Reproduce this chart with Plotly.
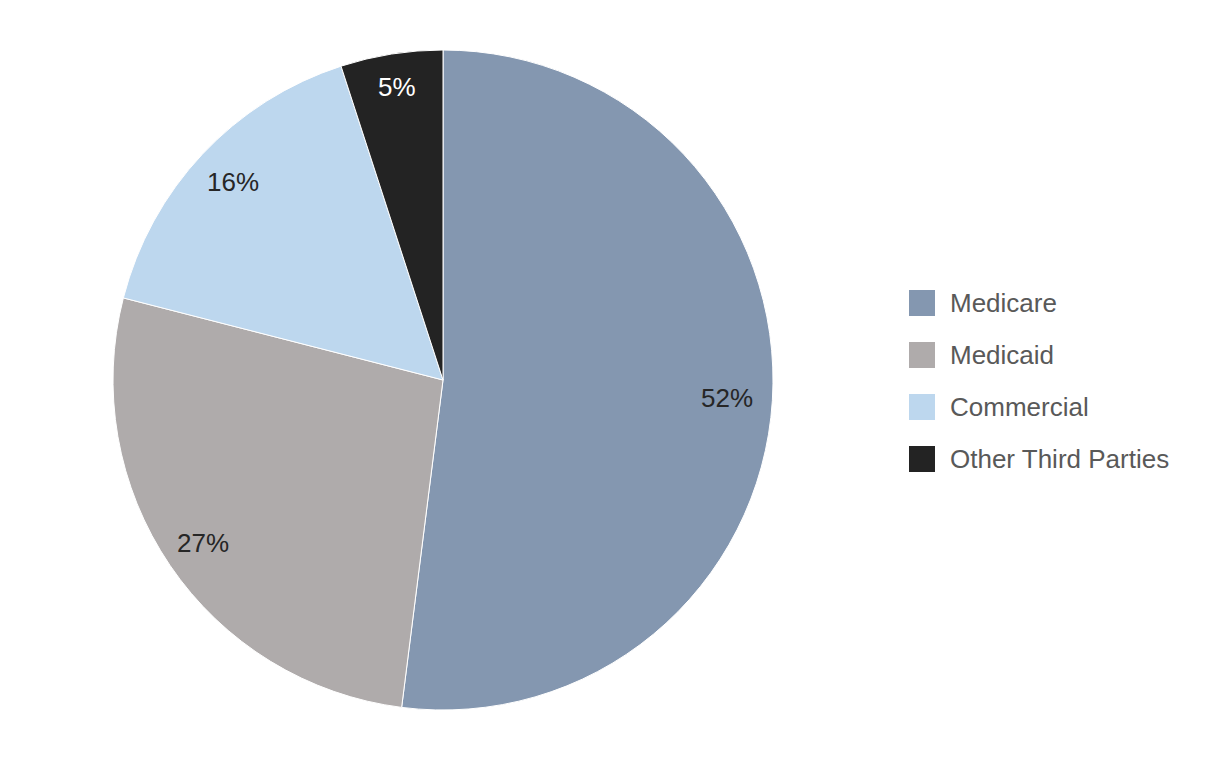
import math
import plotly.graph_objects as go

labels = ["Medicare", "Medicaid", "Commercial", "Other Third Parties"]
values = [52, 27, 16, 5]
colors = ["#8497B0", "#AFABAB", "#BDD7EE", "#232323"]
text_colors = ["#262626", "#262626", "#262626", "#FFFFFF"]
label_radius = [0.862, 0.88, 0.875, 0.90]  # fraction of pie radius for slice labels

W, H = 1226, 760
OFF = 8  # page body margin

FONT = "Liberation Sans, Arial"

# pie geometry (screen pixels)
cx, cy, R = 443 - OFF, 380 - OFF, 330

fig = go.Figure(go.Pie(
    labels=labels,
    values=values,
    sort=False,
    direction="clockwise",
    rotation=0,
    marker=dict(colors=colors, line=dict(color="#FFFFFF", width=1)),
    textinfo="none",
    showlegend=False,
    hoverinfo="label+value",
    domain=dict(x=[(cx - R) / W, (cx + R) / W],
                y=[1 - (cy + R) / H, 1 - (cy - R) / H]),
))

# slice labels placed along each slice's mid-angle
total = sum(values)
cum = 0
for v, tc, rf in zip(values, text_colors, label_radius):
    mid = (cum + v / 2) / total * 2 * math.pi
    cum += v
    r = rf * R
    px = cx + r * math.sin(mid)
    py = cy - r * math.cos(mid)
    fig.add_annotation(xref="paper", yref="paper", x=px / W, y=1 - py / H,
                       text=f"{v}%", showarrow=False,
                       xanchor="center", yanchor="middle",
                       font=dict(family=FONT, size=26, color=tc))

# custom legend
leg_y_centers = [303, 355, 407, 459]
for lab, col, yc in zip(labels, colors, leg_y_centers):
    yc -= OFF
    fig.add_shape(type="rect", xref="paper", yref="paper",
                  x0=(909 - OFF) / W, x1=(935 - OFF) / W,
                  y0=1 - (yc + 13) / H, y1=1 - (yc - 13) / H,
                  fillcolor=col, line=dict(width=0))
    fig.add_annotation(xref="paper", yref="paper", x=(948 - OFF) / W, y=1 - yc / H,
                       text=lab, showarrow=False, xanchor="left", yanchor="middle",
                       font=dict(family=FONT, size=26, color="#595959"))

fig.update_layout(
    width=W, height=H,
    margin=dict(l=0, r=0, t=0, b=0),
    paper_bgcolor="#FFFFFF",
    plot_bgcolor="#FFFFFF",
)

fig.write_html("out.html")
